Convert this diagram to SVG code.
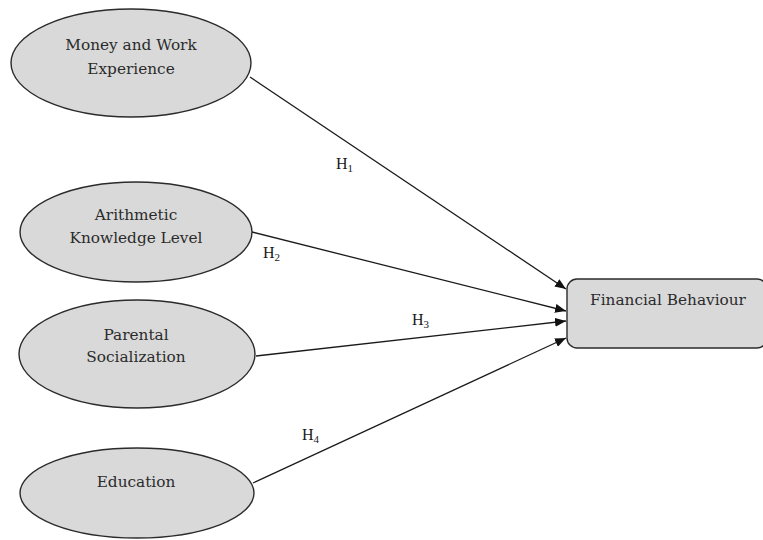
<svg xmlns="http://www.w3.org/2000/svg" width="763" height="540" viewBox="0 0 763 540">
<style>
.node{fill:#d9d9d9;stroke:#2b2b2b;stroke-width:1.4}
.t{font-family:"DejaVu Serif",serif;font-size:15.3px;fill:#2b2b2b;text-anchor:middle}
.e{stroke:#1a1a1a;stroke-width:1.3;fill:none;marker-end:url(#ah)}
.h{font-family:"Liberation Serif",serif;font-size:16px;fill:#1a1a1a}
.s{font-size:11px}
</style>
<defs>
<marker id="ah" viewBox="0 0 11 9" refX="11" refY="4.5" markerWidth="11" markerHeight="9" markerUnits="userSpaceOnUse" orient="auto">
<path d="M0,0 L11,4.5 L0,9 Z" fill="#111"/>
</marker>
</defs>
<rect width="763" height="540" fill="#fff"/>
<g id="connectors">
<line class="e" x1="250" y1="77" x2="566" y2="289"/>
<line class="e" x1="252" y1="232" x2="566" y2="311"/>
<line class="e" x1="256" y1="356" x2="566" y2="321"/>
<line class="e" x1="253" y1="483" x2="566" y2="338"/>
<text class="h" x="336" y="169">H<tspan class="s" dy="3">1</tspan></text>
<text class="h" x="263" y="258">H<tspan class="s" dy="3">2</tspan></text>
<text class="h" x="412" y="325">H<tspan class="s" dy="3">3</tspan></text>
<text class="h" x="302" y="440">H<tspan class="s" dy="3">4</tspan></text>
</g>
<g id="n1">
<ellipse class="node" cx="131" cy="63" rx="120" ry="54"/>
<text class="t" x="131" y="50">Money and Work</text>
<text class="t" x="131" y="74">Experience</text>
</g>
<g id="n2">
<ellipse class="node" cx="136" cy="232" rx="116" ry="50"/>
<text class="t" x="136" y="220">Arithmetic</text>
<text class="t" x="136" y="243">Knowledge Level</text>
</g>
<g id="n3">
<ellipse class="node" cx="137" cy="354" rx="118" ry="54"/>
<text class="t" x="136" y="340">Parental</text>
<text class="t" x="136" y="362">Socialization</text>
</g>
<g id="n4">
<ellipse class="node" cx="137" cy="493" rx="117" ry="45"/>
<text class="t" x="136" y="487">Education</text>
</g>
<g id="n5">
<rect class="node" x="567" y="279" width="200" height="69" rx="10" ry="10"/>
<text class="t" x="668" y="305">Financial Behaviour</text>
</g>
</svg>
